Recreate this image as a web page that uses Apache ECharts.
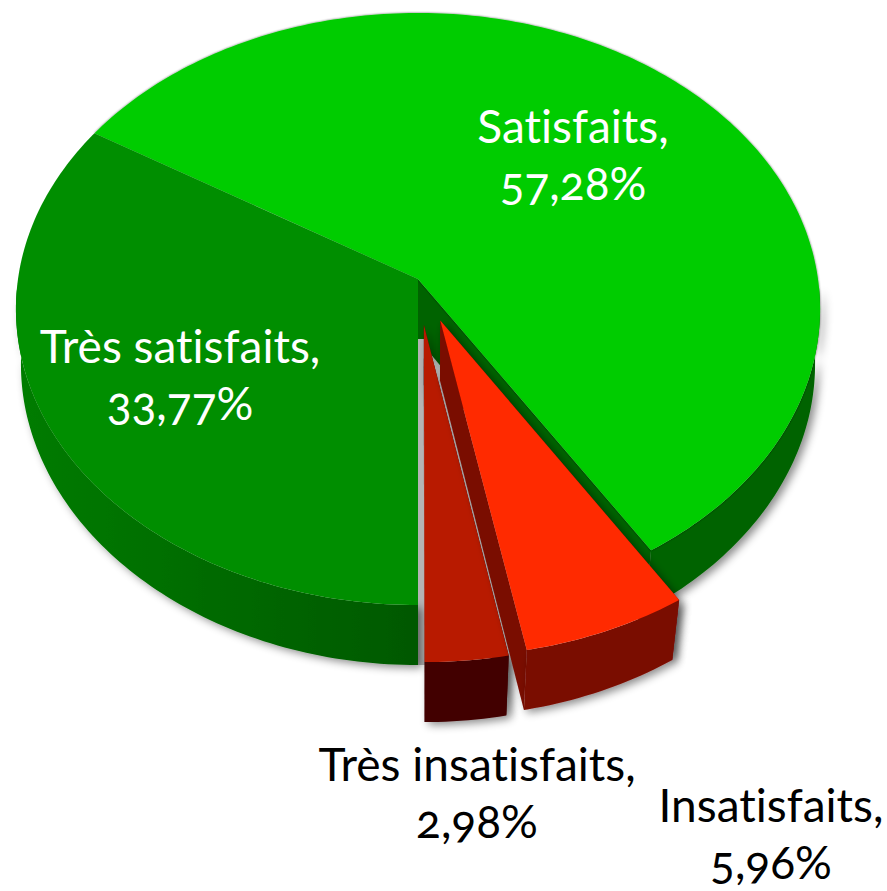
<!DOCTYPE html>
<html>
<head>
<meta charset="utf-8">
<script src="https://cdn.jsdelivr.net/npm/echarts@6/dist/echarts.min.js"></script>
<style>
  html, body { margin: 0; background: #fff; }
  #chart { width: 887px; height: 891px; }
  #chart text {
    font-variant-numeric: oldstyle-nums !important;
    font-variant-ligatures: none !important;
    font-feature-settings: "onum" 1, "liga" 0 !important;
  }
</style>
</head>
<body>
<div id="chart"></div>
<script>
// clockwise from 6 o'clock
const categories = ['Très satisfaits', 'Satisfaits', 'Insatisfaits', 'Très insatisfaits']
const values = [33.77, 57.28, 5.96, 2.98]
const valueLabels = ['33,77%', '57,28%', '5,96%', '2,98%']

const explode = [0, 0, 0.15, 0.155]
const topColors = ['#008e00', '#00cc00', '#ff2a00', '#b81a00']
const wallColors = [
  { type: 'linear', x: 0, y: 0, x2: 1, y2: 0, colorStops: [{ offset: 0, color: '#007c00' }, { offset: 1, color: '#005800' }] },
  '#006400', '#7a0c00', '#420000'
]
const textColors = ['#fff', '#fff', '#000', '#000']
const labelX = [180, 573, 771, 477]
const labelY = [317, 97, 776, 735]
const paintOrder = [1, 0, 3, 2]

// perspective of the disc, fitted on the picture
const CX = 418, CY = 279, RX = 400, RY = 293, K = 0.1014
const DEPTH = 60
const total = values.reduce((a, b) => a + b, 0)

function project(u, v, bottom) {
  const w = 1 + K * v
  let x = RX * u / w
  let y = CY - RY * v / w
  if (bottom) {
    x *= 0.989 + 0.0155 * Math.max(v, -1)
    y += DEPTH
  }
  return [CX + x, y]
}

function sliceElements(i) {
  let start = 180
  for (let j = 0; j < i; j++) start += values[j] / total * 360
  const end = start + values[i] / total * 360
  const mid = (start + end) / 2 * Math.PI / 180
  const ox = Math.sin(mid) * explode[i]
  const oy = Math.cos(mid) * explode[i]

  const angles = []
  for (let a = start; a < end; a += 1) angles.push(a)
  angles.push(end)
  const at = (a, bottom) => {
    const r = a * Math.PI / 180
    return project(Math.sin(r) + ox, Math.cos(r) + oy, bottom)
  }
  const top = angles.map(a => at(a, false))
  // only the front of the rim has a visible wall
  const front = angles.filter(a => Math.cos(a * Math.PI / 180) + oy < -0.02)
  const rimTop = front.map(a => at(a, false))
  const rimUnder = front.map(a => at(a, true))
  const apexTop = project(ox, oy, false)
  const apexUnder = project(ox, oy, true)
  const first = angles[0], last = angles[angles.length - 1]

  const wallStyle = {
    fill: wallColors[i],
    shadowBlur: 8,
    shadowOffsetX: 4,
    shadowOffsetY: 3,
    shadowColor: 'rgba(0,0,0,0.45)'
  }
  const wall = pts => ({ type: 'polygon', shape: { points: pts }, style: wallStyle })

  const children = []
  // grey gap left beside the detached slices
  if (i === 0) {
    children.push({
      type: 'polyline',
      shape: { points: [apexUnder, at(first, true)] },
      style: { stroke: '#b4b4b4', lineWidth: 14, fill: 'none' }
    })
  }
  if (Math.cos(first * Math.PI / 180) < 0) children.push(wall([apexTop, at(first, false), at(first, true), apexUnder]))
  if (Math.cos(last * Math.PI / 180) < 0) children.push(wall([apexTop, at(last, false), at(last, true), apexUnder]))
  if (rimTop.length > 1) children.push(wall(rimTop.concat(rimUnder.slice().reverse())))
  const topStyle = { fill: topColors[i] }
  if (i === 1) {
    topStyle.shadowBlur = 2
    topStyle.shadowColor = 'rgba(0,0,0,0.6)'
  }
  children.push({ type: 'polygon', shape: { points: [apexTop].concat(top) }, style: topStyle })
  return children
}

const option = {
  animation: false,
  backgroundColor: '#fff',
  series: [{
    type: 'custom',
    coordinateSystem: 'none',
    silent: true,
    data: paintOrder.map(i => [i, values[i]]),
    renderItem: (params, api) => ({
      type: 'group',
      children: sliceElements(api.value(0))
    })
  }],
  graphic: categories.map((name, i) => ({
    type: 'text',
    z: 10,
    x: labelX[i],
    y: labelY[i],
    style: {
      text: name + ',\n' + valueLabels[i],
      fill: textColors[i],
      font: '46px Lato',
      lineHeight: 57,
      align: 'center',
      verticalAlign: 'top'
    }
  }))
}

const chart = echarts.init(document.getElementById('chart'), null, { renderer: 'svg' })
chart.setOption(option)
</script>
</body>
</html>
